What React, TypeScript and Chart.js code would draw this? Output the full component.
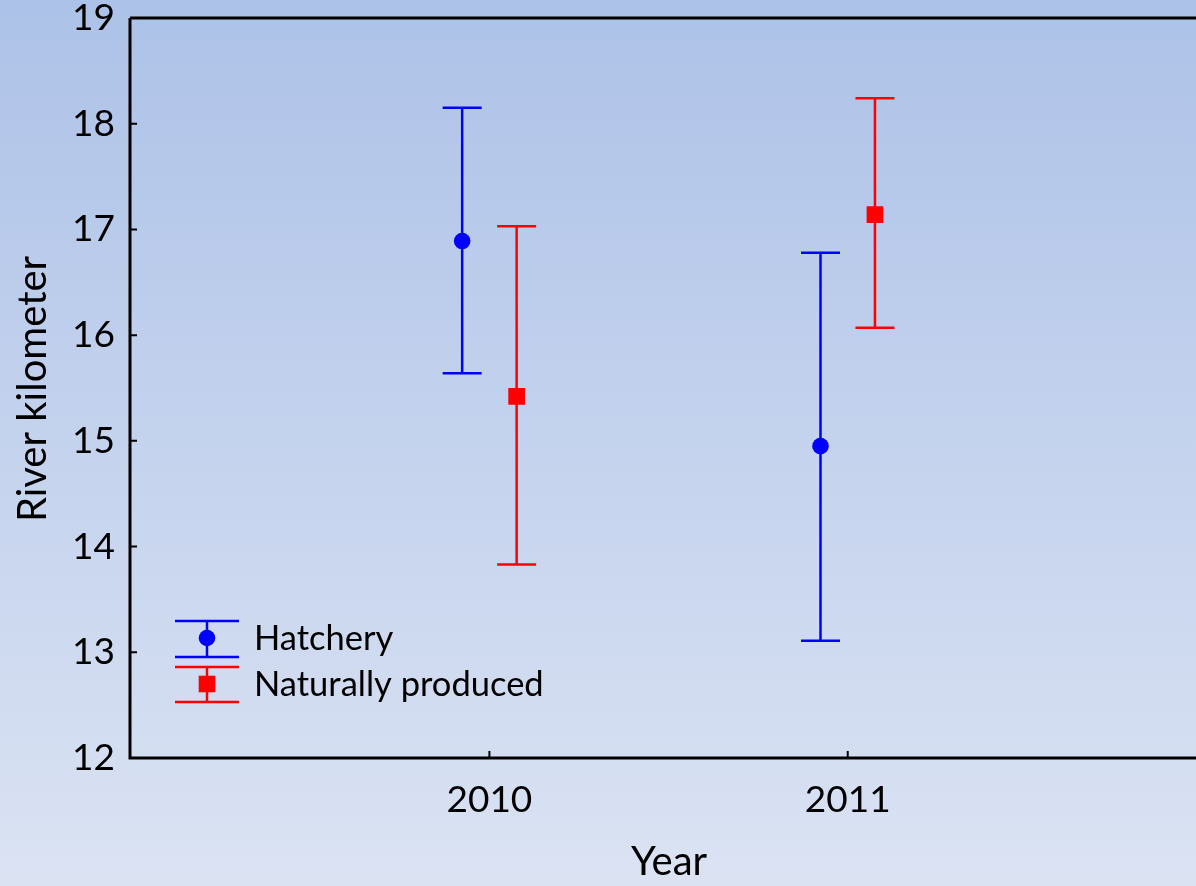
import React, { useEffect, useRef } from "react";
import { Chart, registerables } from "chart.js";

Chart.register(...registerables);

// ---- data ----
const years = [2010, 2011];
const hatcheryMean = [16.89, 14.95];
const hatcheryLow = [15.64, 13.11];
const hatcheryHigh = [18.15, 16.78];
const naturalMean = [15.42, 17.14];
const naturalLow = [13.83, 16.07];
const naturalHigh = [17.03, 18.24];
const yTicks = [12, 13, 14, 15, 16, 17, 18, 19];
const seriesNames = ["Hatchery", "Naturally produced"];
const seriesColors = ["#0000ff", "#ff0000"];
const groupOffset = 0.076;
const xTitle = "Year";
const yTitle = "River kilometer";

const FONT = "Lato, 'Open Sans', sans-serif";

const makePoints = (mean: number[], lo: number[], hi: number[], off: number) =>
  years.map((yr, i) => ({ x: yr + off, y: mean[i], lo: lo[i], hi: hi[i] }));

const zeroPad = () => ({ left: 0, top: 0, right: 0, bottom: 0 });

const bgPlugin = {
  id: "bg",
  beforeDraw(chart: any) {
    const { ctx, width, height } = chart;
    const g = ctx.createLinearGradient(0, 0, 0, height);
    g.addColorStop(0, "#adc2e8");
    g.addColorStop(1, "#dbe3f3");
    ctx.save();
    ctx.fillStyle = g;
    ctx.fillRect(0, 0, width, height);
    ctx.restore();
  },
};

const errorBarPlugin = {
  id: "errorBars",
  beforeDatasetsDraw(chart: any) {
    const { ctx } = chart;
    const xs = chart.scales.x;
    const ys = chart.scales.y;
    ctx.save();
    chart.data.datasets.forEach((ds: any) => {
      ctx.strokeStyle = ds.borderColor;
      ctx.lineWidth = 2.5;
      ds.data.forEach((p: any) => {
        const x = xs.getPixelForValue(p.x);
        const yl = ys.getPixelForValue(p.lo);
        const yh = ys.getPixelForValue(p.hi);
        const cap = 19.5;
        ctx.beginPath();
        ctx.moveTo(x, yl);
        ctx.lineTo(x, yh);
        ctx.moveTo(x - cap, yl);
        ctx.lineTo(x + cap, yl);
        ctx.moveTo(x - cap, yh);
        ctx.lineTo(x + cap, yh);
        ctx.stroke();
      });
    });
    ctx.restore();
  },
};

const frameTitlesLegendPlugin = {
  id: "frame",
  afterDraw(chart: any) {
    const { ctx, chartArea, width } = chart;
    const xs = chart.scales.x;
    const ys = chart.scales.y;
    const { left, top, bottom } = chartArea;
    const right = width;
    ctx.save();
    ctx.strokeStyle = "#000";
    ctx.lineWidth = 3;
    ctx.beginPath();
    ctx.moveTo(left, top);
    ctx.lineTo(left, bottom);
    ctx.lineTo(right, bottom);
    ctx.moveTo(left, top);
    ctx.lineTo(right, top);
    ctx.stroke();
    // inward ticks
    ctx.lineWidth = 2;
    ctx.beginPath();
    yTicks.forEach((v) => {
      const y = ys.getPixelForValue(v);
      ctx.moveTo(left, y);
      ctx.lineTo(left + 7, y);
    });
    years.forEach((v) => {
      const x = xs.getPixelForValue(v);
      ctx.moveTo(x, bottom);
      ctx.lineTo(x, bottom - 7);
    });
    ctx.stroke();

    // axis titles
    ctx.fillStyle = "#000";
    ctx.font = `40px ${FONT}`;
    ctx.textAlign = "center";
    ctx.textBaseline = "middle";
    ctx.fillText(xTitle, 669, 862);
    ctx.save();
    ctx.translate(33, 389);
    ctx.rotate(-Math.PI / 2);
    ctx.fillText(yTitle, 0, 0);
    ctx.restore();

    // legend
    const lx = 207;
    const rows = [
      { cy: 638, lo: 621, hi: 657 },
      { cy: 684, lo: 667, hi: 702 },
    ];
    rows.forEach((r, i) => {
      const c = seriesColors[i];
      ctx.strokeStyle = c;
      ctx.fillStyle = c;
      ctx.lineWidth = 2.5;
      ctx.beginPath();
      ctx.moveTo(lx, r.lo);
      ctx.lineTo(lx, r.hi);
      ctx.moveTo(lx - 32, r.lo);
      ctx.lineTo(lx + 32, r.lo);
      ctx.moveTo(lx - 32, r.hi);
      ctx.lineTo(lx + 32, r.hi);
      ctx.stroke();
      ctx.beginPath();
      if (i === 0) {
        ctx.arc(lx, r.cy, 8.3, 0, Math.PI * 2);
      } else {
        ctx.rect(lx - 8.3, r.cy - 8.3, 16.6, 16.6);
      }
      ctx.fill();
      ctx.fillStyle = "#000";
      ctx.font = `34.5px ${FONT}`;
      ctx.textAlign = "left";
      ctx.textBaseline = "middle";
      ctx.fillText(seriesNames[i], 254, r.cy + 1);
    });
    ctx.restore();
  },
};

export default function App() {
  const ref = useRef<HTMLCanvasElement | null>(null);
  useEffect(() => {
    if (!ref.current) return;
    const chart = new Chart(ref.current, {
      type: "scatter",
      data: {
        datasets: [
          {
            label: seriesNames[0],
            data: makePoints(hatcheryMean, hatcheryLow, hatcheryHigh, -groupOffset) as any,
            backgroundColor: seriesColors[0],
            borderColor: seriesColors[0],
            pointStyle: "circle",
            pointRadius: 8.3,
            pointBorderWidth: 0,
          },
          {
            label: seriesNames[1],
            data: makePoints(naturalMean, naturalLow, naturalHigh, groupOffset) as any,
            backgroundColor: seriesColors[1],
            borderColor: seriesColors[1],
            pointStyle: "rect",
            pointRadius: 11.8,
            pointBorderWidth: 0,
          },
        ],
      },
      options: {
        animation: false,
        responsive: false,
        devicePixelRatio: 1,
        layout: { padding: { top: 18, left: 0, right: 0, bottom: 0 } },
        plugins: { legend: { display: false }, tooltip: { enabled: false } },
        scales: {
          x: {
            type: "linear",
            min: 2008.997,
            max: 2011.939,
            bounds: "data",
            grid: { display: false, drawTicks: false },
            border: { display: false },
            afterBuildTicks: (s: any) => {
              s.ticks = years.map((v) => ({ value: v }));
            },
            afterFit: (s: any) => {
              s.height = 128;
              s.paddingLeft = 0;
              s.paddingRight = 0;
              s.getPadding = zeroPad;
            },
            ticks: {
              color: "#000",
              font: { family: FONT, size: 37 },
              padding: 20,
              maxRotation: 0,
              callback: (v: any) => String(v),
            },
          },
          y: {
            type: "linear",
            min: 12,
            max: 19,
            grid: { display: false, drawTicks: false },
            border: { display: false },
            afterBuildTicks: (s: any) => {
              s.ticks = yTicks.map((v) => ({ value: v }));
            },
            afterFit: (s: any) => {
              s.width = 130;
              s.paddingTop = 0;
              s.paddingBottom = 0;
              s.getPadding = zeroPad;
            },
            ticks: {
              color: "#000",
              font: { family: FONT, size: 37 },
              padding: 15,
              callback: (v: any) => String(v),
            },
          },
        },
      },
      plugins: [bgPlugin, errorBarPlugin, frameTitlesLegendPlugin],
    });
    return () => chart.destroy();
  }, []);
  return (
    <div style={{ position: "absolute", left: 0, top: 0, width: 1196, height: 886 }}>
      <canvas ref={ref} width={1196} height={886} style={{ display: "block" }} />
    </div>
  );
}
